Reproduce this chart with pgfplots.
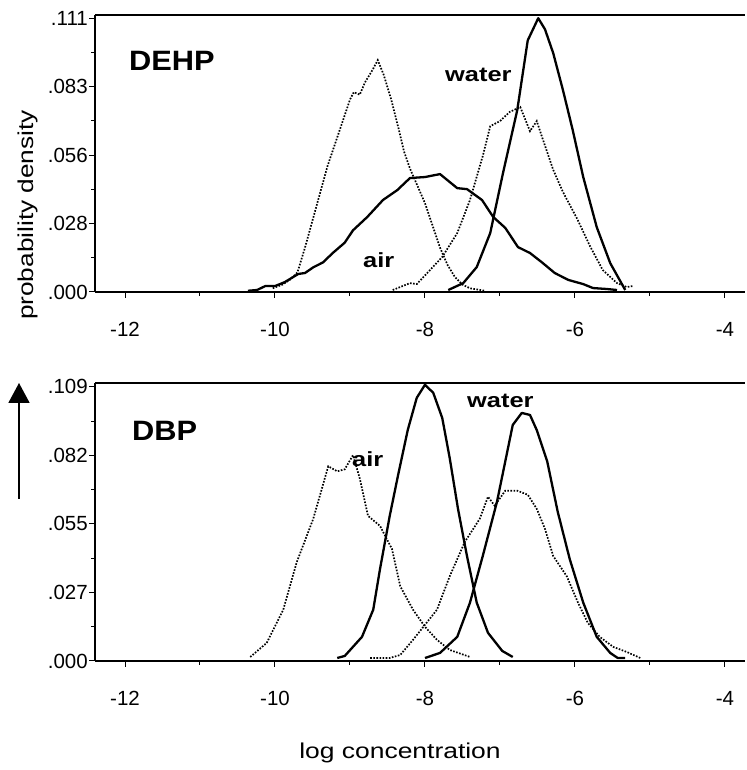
\documentclass[border=0pt]{standalone}
\usepackage{pgfplots}
\pgfplotsset{compat=1.18}
\usepackage{fontspec}
\setmainfont{Liberation Sans}
\usetikzlibrary{arrows.meta}

\begin{document}
\begin{tikzpicture}[x=1pt,y=1pt]
\path (0,0) rectangle (746,770);

\pgfplotsset{
  myaxis/.style={
    scale only axis,
    width=650pt,
    xmin=-12.4, xmax=-3.733,
    axis x line*=box, axis y line*=left,
    axis line style={line width=1.6pt},
    xtick pos=bottom, ytick pos=left,
    xtick={-12,-10,-8,-6,-4},
    xticklabels={-12,-10,-8,-6,-4},
    minor xtick={-11,-9,-7,-5},
    tick align=outside,
    major tick length=6pt,
    minor tick length=4pt,
    every tick/.style={line width=1pt, black},
    tick label style={font=\fontsize{20.5}{23}\selectfont, inner sep=1pt},
    xticklabel shift=23pt,
    clip=false,
  },
  airdot/.style={black, line width=1.7pt, dash pattern=on 1.6pt off 1.5pt},
  solidc/.style={black, line width=2.3pt, line join=round},
}

% ---------------- top panel: DEHP ----------------
\begin{axis}[myaxis,
  at={(95pt,478pt)}, anchor=south west,
  height=277pt,
  ymin=0, ymax=0.1123,
  ytick={0,0.02775,0.0555,0.08325,0.111},
  yticklabels={.000,.028,.056,.083,.111},
  minor ytick={0.013875,0.041625,0.069375,0.097125},
]
% air, dotted
\addplot[airdot] coordinates {
(-10.03,0.0015) (-9.9,0.003) (-9.8,0.005) (-9.7,0.008) (-9.6,0.018)
(-9.5,0.029) (-9.4,0.040) (-9.3,0.051) (-9.2,0.060) (-9.1,0.069)
(-9.0,0.078) (-8.95,0.081) (-8.87,0.080) (-8.8,0.085) (-8.7,0.090)
(-8.63,0.094) (-8.55,0.088) (-8.45,0.078) (-8.35,0.066) (-8.28,0.057)
(-8.2,0.050) (-8.1,0.043) (-8.0,0.036) (-7.9,0.027) (-7.8,0.018)
(-7.7,0.011) (-7.6,0.006) (-7.5,0.003) (-7.4,0.0015) (-7.2,0.0005)
};
% air, solid
\addplot[solidc] coordinates {
(-10.36,0.0005) (-10.24,0.0008) (-10.13,0.0024) (-10.0,0.0024) (-9.87,0.004)
(-9.69,0.0073) (-9.6,0.0077) (-9.49,0.010) (-9.36,0.012) (-9.23,0.0158)
(-9.07,0.020) (-8.96,0.025) (-8.77,0.0304) (-8.56,0.0373) (-8.37,0.0413)
(-8.2,0.0462) (-8.0,0.0466) (-7.8,0.0478) (-7.57,0.0421) (-7.44,0.0417)
(-7.24,0.0373) (-7.09,0.0304) (-6.93,0.026) (-6.76,0.0182) (-6.6,0.0158)
(-6.44,0.012) (-6.27,0.0077) (-6.09,0.0049) (-5.89,0.0032) (-5.76,0.0016)
(-5.57,0.0012) (-5.44,0.0008)
};
% water, dotted
\addplot[airdot] coordinates {
(-8.43,0.0008) (-8.2,0.0036) (-8.11,0.0032) (-7.97,0.0077) (-7.77,0.0142)
(-7.57,0.0239) (-7.4,0.0373) (-7.23,0.0551) (-7.13,0.0672) (-7.0,0.0693)
(-6.87,0.073) (-6.73,0.075) (-6.6,0.0652) (-6.51,0.0693) (-6.43,0.062)
(-6.29,0.0495) (-6.16,0.0405) (-5.97,0.0296) (-5.8,0.0186) (-5.63,0.0089)
(-5.44,0.0036) (-5.31,0.002) (-5.23,0.0024)
};
% water, solid
\addplot[solidc] coordinates {
(-7.69,0.0008) (-7.49,0.0036) (-7.31,0.0101) (-7.13,0.0239) (-6.96,0.0482)
(-6.77,0.0737) (-6.63,0.102) (-6.49,0.111) (-6.4,0.1065) (-6.29,0.0968)
(-6.16,0.0818) (-6.03,0.0656) (-5.89,0.0466) (-5.71,0.0263) (-5.53,0.0117)
(-5.33,0.0008)
};
\end{axis}

% ---------------- bottom panel: DBP ----------------
\begin{axis}[myaxis,
  at={(95pt,109pt)}, anchor=south west,
  height=278pt,
  ymin=0, ymax=0.1105,
  ytick={0,0.02725,0.0545,0.08175,0.109},
  yticklabels={.000,.027,.055,.082,.109},
  minor ytick={0.013625,0.040875,0.068125,0.095375},
]
% air, dotted
\addplot[airdot] coordinates {
(-10.33,0.0016) (-10.11,0.0072) (-9.89,0.0204) (-9.71,0.0393) (-9.49,0.0565)
(-9.29,0.0774) (-9.17,0.0754) (-9.07,0.0762) (-8.96,0.0818) (-8.87,0.0726)
(-8.76,0.0577) (-8.6,0.0537) (-8.44,0.0445) (-8.33,0.0297) (-8.16,0.0204)
(-8.0,0.0136) (-7.84,0.0084) (-7.67,0.0044) (-7.4,0.0016)
};
% air, solid
\addplot[solidc] coordinates {
(-9.17,0.0012) (-9.07,0.002) (-8.84,0.0096) (-8.69,0.0204) (-8.6,0.0365)
(-8.47,0.0577) (-8.36,0.0737) (-8.23,0.0918) (-8.11,0.1046) (-8.0,0.1098)
(-7.89,0.1066) (-7.77,0.0966) (-7.67,0.0806) (-7.56,0.0605) (-7.44,0.0417)
(-7.31,0.0232) (-7.16,0.0112) (-6.97,0.004) (-6.83,0.0016)
};
% water, dotted
\addplot[airdot] coordinates {
(-8.73,0.0012) (-8.47,0.0012) (-8.33,0.0024) (-8.16,0.0084) (-8.0,0.0144)
(-7.84,0.0204) (-7.67,0.0337) (-7.47,0.0473) (-7.27,0.0565) (-7.16,0.0653)
(-7.07,0.0617) (-6.93,0.0677) (-6.77,0.0677) (-6.63,0.0661) (-6.51,0.0605)
(-6.4,0.0525) (-6.29,0.0417) (-6.11,0.0337) (-5.96,0.0232) (-5.83,0.0152)
(-5.67,0.0096) (-5.49,0.0056) (-5.31,0.0036) (-5.13,0.0012)
};
% water, solid
\addplot[solidc] coordinates {
(-8.0,0.0012) (-7.8,0.0032) (-7.57,0.0096) (-7.4,0.0232) (-7.23,0.0417)
(-7.04,0.0633) (-6.83,0.0938) (-6.71,0.0986) (-6.6,0.0978) (-6.51,0.0918)
(-6.37,0.0793) (-6.23,0.0593) (-6.07,0.0405) (-5.89,0.0232) (-5.71,0.0096)
(-5.53,0.0032) (-5.43,0.0012) (-5.33,0.0012)
};
\end{axis}

% ---------------- labels ----------------
\node[anchor=base west, inner sep=0pt, font=\fontsize{28}{32}\selectfont\bfseries] at (129,699) {\scalebox{1.1}[1]{DEHP}};
\node[anchor=base west, inner sep=0pt, font=\fontsize{20.5}{24}\selectfont\bfseries] at (445,688) {\scalebox{1.24}[1]{water}};
\node[anchor=base west, inner sep=0pt, font=\fontsize{20.5}{24}\selectfont\bfseries] at (363,502) {\scalebox{1.24}[1]{air}};
\node[anchor=base west, inner sep=0pt, font=\fontsize{28}{32}\selectfont\bfseries] at (132,329) {\scalebox{1.1}[1]{DBP}};
\node[anchor=base west, inner sep=0pt, font=\fontsize{20.5}{24}\selectfont\bfseries] at (352,303) {\scalebox{1.24}[1]{air}};
\node[anchor=base west, inner sep=0pt, font=\fontsize{20.5}{24}\selectfont\bfseries] at (467,362) {\scalebox{1.24}[1]{water}};

\node[rotate=90, inner sep=0pt, font=\fontsize{21.5}{24}\selectfont] at (28,555) {\scalebox{1.22}[1]{probability density}};
\node[anchor=base, inner sep=0pt, font=\fontsize{21.5}{24}\selectfont] at (400,12) {\scalebox{1.23}[1]{log concentration}};

\draw[line width=1.8pt, -{Triangle[length=20pt,width=21pt]}] (19,271) -- (19,387);
\end{tikzpicture}
\end{document}
